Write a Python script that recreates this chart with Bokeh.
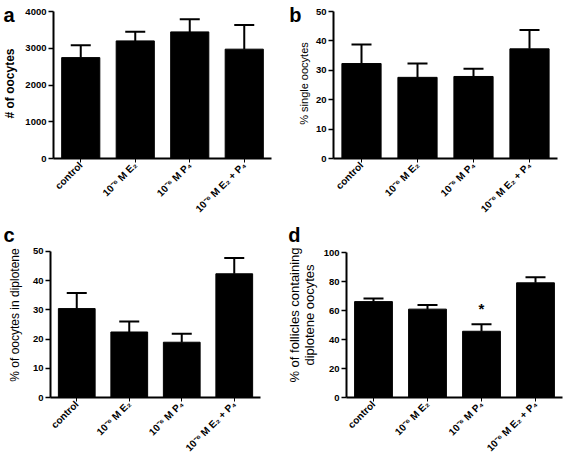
from math import pi
from bokeh.plotting import figure
from bokeh.models import (ColumnDataSource, Whisker, TeeHead, FixedTicker, Range1d,
                          FactorRange, LinearAxis, PrintfTickFormatter)
from bokeh.layouts import row, column
from bokeh.embed import file_html
from bokeh.resources import INLINE
from bokeh.core.properties import value

groups = ["control", "10⁻⁶ M E₂", "10⁻⁶ M P₄", "10⁻⁶ M E₂ + P₄"]

oocytes = [2745, 3200, 3445, 2975]
oocytes_err = [335, 250, 345, 660]

single = [32.3, 27.6, 27.9, 37.3]
single_err = [6.5, 4.7, 2.6, 6.4]

diplotene = [30.4, 22.4, 18.9, 42.3]
diplotene_err = [5.3, 3.6, 2.9, 5.4]

follicles = [66.3, 61.1, 45.8, 79.3]
follicles_err = [2.1, 2.9, 4.9, 3.9]
follicles_sig = ["", "", "*", ""]

FONT = "Liberation Sans"


def panel(vals, errs, ymax, ystep, ylabel, letter, label_bold, label_size, label_standoff,
          width, height, left, right, top, bottom, head_px, letter_standoff, sig=None):
    # head_px: empty space (px) kept above the top tick, where the panel letter sits
    fh = height - top - bottom
    ytop = ymax * fh / (fh - head_px)
    src = ColumnDataSource(dict(g=groups, v=vals,
                                up=[a + b for a, b in zip(vals, errs)]))
    p = figure(x_range=FactorRange(factors=groups, range_padding=0),
               y_range=Range1d(0, ytop),
               width=width, height=height, output_backend="svg",
               toolbar_location=None,
               min_border_left=left, min_border_right=right,
               min_border_top=top, min_border_bottom=bottom)
    p.title.visible = False
    p.outline_line_color = None
    p.xgrid.visible = False
    p.ygrid.visible = False
    p.vbar(x="g", top="v", width=0.70, source=src, color="black")
    w = Whisker(source=src, base="g", upper="up", lower="v", dimension="height",
                line_width=2, line_color="black",
                upper_head=TeeHead(size=20, line_width=2, line_color="black"),
                lower_head=None)
    p.add_layout(w)

    for ax in p.axis:
        ax.axis_line_width = 2
        ax.axis_line_color = "black"
        ax.major_label_text_font = FONT
        ax.major_label_text_font_style = "bold"
        ax.major_label_text_color = "black"
        ax.major_tick_in = 0
        ax.major_tick_line_color = "black"
        ax.minor_tick_line_color = None

    p.yaxis.bounds = (0, ymax)
    p.yaxis.ticker = FixedTicker(ticks=list(range(0, ymax + 1, ystep)))
    p.yaxis.major_tick_out = 5
    p.yaxis.major_tick_line_width = 1.5
    p.yaxis.major_label_text_font_size = "9.5px"
    p.yaxis.major_label_standoff = 2
    p.yaxis.axis_label = ylabel
    p.yaxis.axis_label_text_font = FONT
    p.yaxis.axis_label_text_font_size = label_size
    p.yaxis.axis_label_text_font_style = "bold" if label_bold else "normal"
    p.yaxis.axis_label_text_color = "black"
    p.yaxis.axis_label_text_line_height = 1.0
    p.yaxis.axis_label_standoff = label_standoff

    p.xaxis.major_label_orientation = pi / 4
    p.xaxis.major_tick_out = 4
    p.xaxis.major_tick_line_width = 1
    p.xaxis.major_label_text_font_size = "10px"
    p.xaxis.major_label_standoff = 1

    # outer left axis carrying only the panel letter, at the top of the plot area
    outer = LinearAxis(axis_line_color=None, major_tick_line_color=None,
                       minor_tick_line_color=None, major_tick_out=0, major_tick_in=0,
                       ticker=FixedTicker(ticks=[ytop]),
                       formatter=PrintfTickFormatter(format=letter),
                       major_label_standoff=letter_standoff,
                       major_label_text_font=FONT, major_label_text_font_size="20px",
                       major_label_text_font_style="bold", major_label_text_color="black")
    p.add_layout(outer, "left")

    if sig is not None:
        sx = [g for g, s in zip(groups, sig) if s]
        sy = [v + e + 11 for v, e, s in zip(vals, errs, sig) if s]
        st = [s for s in sig if s]
        p.text(x=sx, y=sy, text=st, text_font=value(FONT), text_font_size="15px",
               text_font_style="bold", text_align="center", text_baseline="middle",
               text_color="black")
    return p


pa = panel(oocytes, oocytes_err, 4000, 1000, "# of oocytes", "a", True, "12px", 5,
           283, 222, 48, 12, 8, 64, 3, -14)
pb = panel(single, single_err, 50, 10, "% single oocytes", "b", False, "11px", 3,
           284, 222, 50, 10, 8, 64, 3, -7)
pc = panel(diplotene, diplotene_err, 50, 10, "% of oocytes in diplotene", "c", False, "12px", 8,
           283, 239, 39, 23, 10, 62, 19, -10)
pd = panel(follicles, follicles_err, 100, 20, "% of follicles containing\ndiplotene oocytes",
           "d", False, "13px", 4, 284, 239, 57, 5, 5, 64, 21, -17, sig=follicles_sig)

layout = column(row(pa, pb), row(pc, pd))
open("out.html", "w").write(file_html(layout, INLINE))
